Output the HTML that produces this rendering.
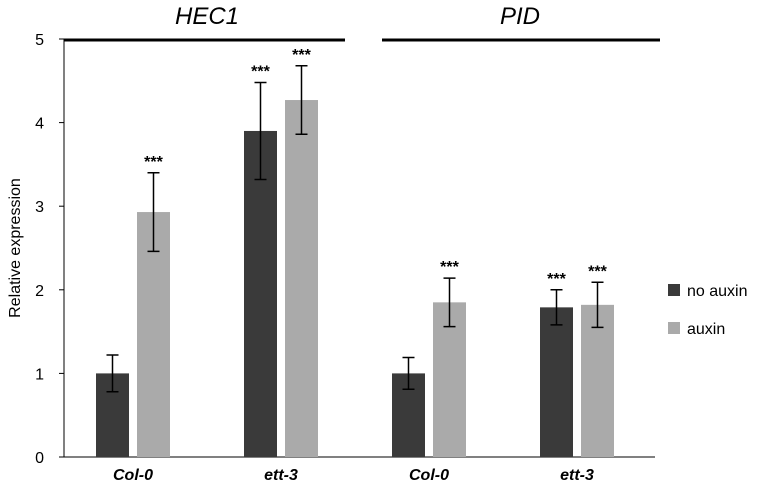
<!DOCTYPE html>
<html><head><meta charset="utf-8"><style>
body{margin:0;background:#fff;}
svg text{font-family:"Liberation Sans",Arial,sans-serif;fill:#000;}
</style></head><body>
<svg id="chart" width="772" height="491" viewBox="0 0 772 491">
<g id="g"></g>
</svg>
<script>
const categories=["Col-0","ett-3","Col-0","ett-3"];
const noAuxin=[1.0,3.9,1.0,1.79];
const noAuxinErr=[0.22,0.58,0.19,0.21];
const auxin=[2.93,4.27,1.85,1.82];
const auxinErr=[0.47,0.41,0.29,0.27];
const noAuxinSig=["","***","","***"];
const auxinSig=["***","***","***","***"];
const yTicks=[0,1,2,3,4,5];
const genes=["HEC1","PID"];

const NS="http://www.w3.org/2000/svg";
const g=document.getElementById('g');
const y0=457,yScale=83.6,x0=64,catStart=133,catStep=148,barW=33;
const y=v=>y0-v*yScale;
const cx=i=>catStart+i*catStep;
function mk(t,a,p){const e=document.createElementNS(NS,t);for(const k in a)e.setAttribute(k,a[k]);(p||g).appendChild(e);return e;}

let ax=mk('line',{x1:x0,y1:y(0),x2:x0,y2:y(5),stroke:'#000','stroke-width':1});


let xa=mk('line',{x1:x0,y1:y(0),x2:655,y2:y(0),stroke:'#000','stroke-width':1});


yTicks.forEach(t=>{
  let tk=mk('line',{x1:x0-5,y1:y(t),x2:x0,y2:y(t),stroke:'#000'});
  
  
  let tx=mk('text',{x:x0-20,y:y(t)+6,'text-anchor':'end','font-size':16});
  tx.textContent=t;
  
  
});
let yt=mk('text',{x:20,y:248,'text-anchor':'middle','font-size':16,transform:'rotate(-90 20 248)'});
yt.textContent='Relative expression';



function bar(i,v,e,sig,off,col,name){
  const x=cx(i)+off;
  let r=mk('rect',{x:x-barW/2,y:y(v),width:barW,height:y(0)-y(v),fill:col});
  
  
  let eb=mk('path',{d:`M${x},${y(v+e)}V${y(v-e)}M${x-6},${y(v+e)}H${x+6}M${x-6},${y(v-e)}H${x+6}`,stroke:'#000','stroke-width':1.5,fill:'none'});
  
  
  if(sig){let s=mk('text',{x:x,y:y(v+e)-6,'text-anchor':'middle','font-size':16,'font-weight':'bold'});
  s.textContent=sig;
  
  }
}
categories.forEach((c,i)=>{
  bar(i,noAuxin[i],noAuxinErr[i],noAuxinSig[i],-20.5,'#3a3a3a','bar-no-auxin');
  bar(i,auxin[i],auxinErr[i],auxinSig[i],20.5,'#aaaaaa','bar-auxin');
  let t=mk('text',{x:cx(i),y:480,'text-anchor':'middle','font-size':16,'font-style':'italic','font-weight':'bold'});
  t.textContent=c;
  
  
});
[[64,345,207],[382,660,520]].forEach((s,k)=>{
  let l=mk('line',{x1:s[0],y1:40,x2:s[1],y2:40,stroke:'#000','stroke-width':3});
  
  
  let t=mk('text',{x:s[2],y:24,'text-anchor':'middle','font-size':24,'font-style':'italic'});
  t.textContent=genes[k];
  
  
});
[['#3a3a3a','no auxin',296],['#aaaaaa','auxin',334]].forEach(L=>{
  let r=mk('rect',{x:668,y:L[2]-12,width:12,height:12,fill:L[0]});
  
  
  let t=mk('text',{x:687,y:L[2],'font-size':16});
  t.textContent=L[1];
  
  
});
</script>
</body></html>
